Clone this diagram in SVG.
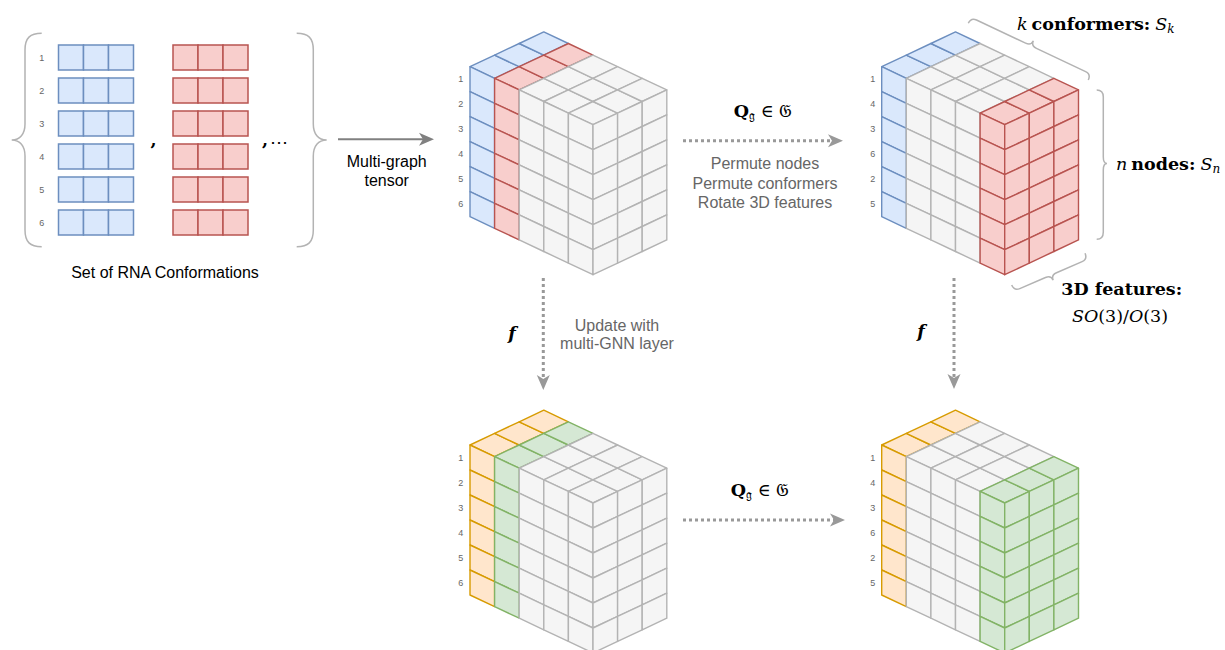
<svg xmlns="http://www.w3.org/2000/svg" width="1225" height="650" viewBox="0 0 1225 650">
<style>
.b{fill:#dae8fc;stroke:#6c8ebf}
.r{fill:#f8cecc;stroke:#b85450}
.g{fill:#f5f5f5;stroke:#b3b3b3}
.o{fill:#ffe6cc;stroke:#d79b00}
.gr{fill:#d5e8d4;stroke:#82b366}
.cube{stroke-width:1.4;stroke-linejoin:round}
.set{stroke-width:1.5}
.idx{font-family:"Liberation Sans",Arial,sans-serif;font-size:9px;fill:#666;text-anchor:middle}
.lbl{font-family:"Liberation Sans",Arial,sans-serif;font-size:16px;fill:#000;text-anchor:middle}
.gl{font-family:"Liberation Sans",Arial,sans-serif;font-size:16px;fill:#666;text-anchor:middle}
.mt{font-family:"DejaVu Serif","Liberation Serif",serif;font-size:17.5px;fill:#000}
.brace{fill:none;stroke:#b3b3b3;stroke-width:1.5}
.solid{fill:none;stroke:#808080;stroke-width:2}
.dot{fill:none;stroke:#999;stroke-width:3;stroke-dasharray:3 3}
</style>
<defs>
<marker id="ah" markerUnits="userSpaceOnUse" markerWidth="16" markerHeight="16" refX="4" refY="8" orient="auto" overflow="visible">
<path d="M0,1.5L15,8L0,14.5L4,8z" fill="#808080"/>
</marker>
<marker id="ahd" markerUnits="userSpaceOnUse" markerWidth="16" markerHeight="16" refX="4" refY="8" orient="auto" overflow="visible">
<path d="M0,1.5L15,8L0,14.5L4,8z" fill="#999"/>
</marker>
<path id="tc" d="M0,0l24.6,-11.6l24.6,11.6l-24.6,11.6z"/>
<path id="lc" d="M0,0l24.6,11.6v25l-24.6,-11.6z"/>
<path id="rc" d="M0,0l24.6,-11.6v25l-24.6,11.6z"/>
<g id="layer">
<use href="#tc"/><use href="#tc" x="24.6" y="-11.6"/><use href="#tc" x="49.2" y="-23.2"/>
<use href="#lc"/><use href="#lc" y="25"/><use href="#lc" y="50"/><use href="#lc" y="75"/><use href="#lc" y="100"/><use href="#lc" y="125"/>
</g>
<g id="rcol"><use href="#rc"/><use href="#rc" y="25"/><use href="#rc" y="50"/><use href="#rc" y="75"/><use href="#rc" y="100"/><use href="#rc" y="125"/></g>
<g id="rface"><use href="#rcol"/><use href="#rcol" x="24.6" y="-11.6"/><use href="#rcol" x="49.2" y="-23.2"/></g>
<g id="row"><rect width="25" height="25"/><rect x="25" width="25" height="25"/><rect x="50" width="25" height="25"/></g>
</defs>
<rect width="1225" height="650" fill="#fff"/>

<g id="rna-set">
<path class="brace" d="M41.7,33.3C30,33.3 25,38 25,50L25,124C25,134 20,140 11.7,140C20,140 25,146 25,156L25,230C25,242 30,246.7 41.7,246.7"/>
<path class="brace" d="M296.7,33.3C308.3,33.3 313.3,38 313.3,50L313.3,124C313.3,134 318.3,140 326.7,140C318.3,140 313.3,146 313.3,156L313.3,230C313.3,242 308.3,246.7 296.7,246.7"/>
<g class="b set">
<use href="#row" x="58.5" y="45"/><use href="#row" x="58.5" y="78"/><use href="#row" x="58.5" y="111"/><use href="#row" x="58.5" y="144"/><use href="#row" x="58.5" y="177"/><use href="#row" x="58.5" y="210"/>
</g>
<g class="r set">
<use href="#row" x="173" y="45"/><use href="#row" x="173" y="78"/><use href="#row" x="173" y="111"/><use href="#row" x="173" y="144"/><use href="#row" x="173" y="177"/><use href="#row" x="173" y="210"/>
</g>
<g class="idx">
<text x="41.7" y="60.5">1</text><text x="41.7" y="93.5">2</text><text x="41.7" y="126.5">3</text><text x="41.7" y="159.5">4</text><text x="41.7" y="192.5">5</text><text x="41.7" y="225.5">6</text>
</g>
<text class="mt" x="150.5" y="146" font-size="21" font-weight="bold">,</text>
<text class="mt" x="262" y="146" font-size="21" font-weight="bold">,</text>
<text class="mt" x="270" y="147.5" font-size="26">⋯</text>
<text class="lbl" x="165" y="277.5">Set of RNA Conformations</text>
</g>

<g id="cube-input" class="cube" transform="translate(470,66.7)">
<use href="#layer" class="b"/>
<use href="#layer" class="r" x="24.6" y="11.6"/>
<use href="#layer" class="g" x="49.2" y="23.2"/>
<use href="#layer" class="g" x="73.8" y="34.8"/>
<use href="#layer" class="g" x="98.4" y="46.4"/>
<use href="#rface" class="g" x="123" y="58"/>
</g>
<g id="cube-input-idx" class="idx">
<text x="460.7" y="82.4">1</text><text x="460.7" y="107.4">2</text><text x="460.7" y="132.4">3</text><text x="460.7" y="157.4">4</text><text x="460.7" y="182.4">5</text><text x="460.7" y="207.4">6</text>
</g>

<g id="cube-permuted" class="cube" transform="translate(881.7,66.7)">
<use href="#layer" class="b"/>
<use href="#layer" class="g" x="24.6" y="11.6"/>
<use href="#layer" class="g" x="49.2" y="23.2"/>
<use href="#layer" class="g" x="73.8" y="34.8"/>
<use href="#layer" class="r" x="98.4" y="46.4"/>
<use href="#rface" class="r" x="123" y="58"/>
</g>
<g id="cube-permuted-idx" class="idx">
<text x="872.7" y="82.4">1</text><text x="872.7" y="107.4">4</text><text x="872.7" y="132.4">3</text><text x="872.7" y="157.4">6</text><text x="872.7" y="182.4">2</text><text x="872.7" y="207.4">5</text>
</g>

<g id="cube-updated" class="cube" transform="translate(470,445)">
<use href="#layer" class="o"/>
<use href="#layer" class="gr" x="24.6" y="11.6"/>
<use href="#layer" class="g" x="49.2" y="23.2"/>
<use href="#layer" class="g" x="73.8" y="34.8"/>
<use href="#layer" class="g" x="98.4" y="46.4"/>
<use href="#rface" class="g" x="123" y="58"/>
</g>
<g id="cube-updated-idx" class="idx">
<text x="460.7" y="460.7">1</text><text x="460.7" y="485.7">2</text><text x="460.7" y="510.7">3</text><text x="460.7" y="535.7">4</text><text x="460.7" y="560.7">5</text><text x="460.7" y="585.7">6</text>
</g>

<g id="cube-updated-permuted" class="cube" transform="translate(881.7,445)">
<use href="#layer" class="o"/>
<use href="#layer" class="g" x="24.6" y="11.6"/>
<use href="#layer" class="g" x="49.2" y="23.2"/>
<use href="#layer" class="g" x="73.8" y="34.8"/>
<use href="#layer" class="gr" x="98.4" y="46.4"/>
<use href="#rface" class="gr" x="123" y="58"/>
</g>
<g id="cube-updated-permuted-idx" class="idx">
<text x="872.7" y="460.7">1</text><text x="872.7" y="485.7">4</text><text x="872.7" y="510.7">3</text><text x="872.7" y="535.7">6</text><text x="872.7" y="560.7">2</text><text x="872.7" y="585.7">5</text>
</g>

<g id="annotations">
<path class="brace" transform="translate(968.3,23.3) rotate(25.3)" d="M0,0C0,-4 2,-6.5 6,-6.5L60.3,-6.5C64.3,-6.5 66.3,-8.5 66.3,-12C66.3,-8.5 68.3,-6.5 72.3,-6.5L126.7,-6.5C130.7,-6.5 132.7,-4 132.7,0"/>
<path class="brace" d="M1096.7,90C1101.5,90 1103.3,92.5 1103.3,97L1103.3,157C1103.3,161 1104.5,163.5 1107,163.5C1104.5,163.5 1103.3,166 1103.3,170L1103.3,232C1103.3,236.5 1101.5,239.3 1096.7,239.3"/>
<path class="brace" transform="translate(1011.7,285) rotate(-23.4)" d="M0,0C0,4 2,6.5 6,6.5L34,6.5C38,6.5 40,8.5 40,12C40,8.5 42,6.5 46,6.5L73.9,6.5C77.9,6.5 79.9,4 79.9,0"/>
<text class="mt" x="1017" y="30"><tspan font-style="italic">k</tspan><tspan font-weight="bold" dx="4">conformers:</tspan><tspan font-style="italic" dx="5">S</tspan><tspan font-style="italic" font-size="12" dy="3">k</tspan></text>
<text class="mt" x="1116" y="170"><tspan font-style="italic">n</tspan><tspan font-weight="bold" dx="4">nodes:</tspan><tspan font-style="italic" dx="5">S</tspan><tspan font-style="italic" font-size="12" dy="3">n</tspan></text>
<text class="mt" x="1121.7" y="295" font-weight="bold" text-anchor="middle">3D features:</text>
<text class="mt" x="1120" y="322" text-anchor="middle"><tspan font-style="italic">SO</tspan>(3)/<tspan font-style="italic">O</tspan>(3)</text>
</g>

<g id="connectors">
<path class="solid" d="M338,139.3H423" marker-end="url(#ah)"/>
<path class="dot" d="M683,140.7H832" marker-end="url(#ahd)"/>
<path class="dot" d="M683,520H834" marker-end="url(#ahd)"/>
<path class="dot" d="M543.3,278V379" marker-end="url(#ahd)"/>
<path class="dot" d="M954,278V378" marker-end="url(#ahd)"/>
</g>

<g id="connector-labels">
<text class="lbl" x="386.7" y="167">Multi-graph</text>
<text class="lbl" x="386.7" y="186">tensor</text>
<text class="mt" x="763" y="117" font-size="19" text-anchor="middle"><tspan font-weight="bold">Q</tspan><tspan font-size="13" dy="3">𝔤</tspan><tspan dy="-3"> ∈ 𝔊</tspan></text>
<text class="gl" x="765" y="169">Permute nodes</text>
<text class="gl" x="765" y="188.5">Permute conformers</text>
<text class="gl" x="765" y="208">Rotate 3D features</text>
<text class="mt" x="512" y="339" font-style="italic" font-weight="bold" font-size="26" text-anchor="middle">f</text>
<text class="gl" x="617" y="330.5">Update with</text>
<text class="gl" x="617" y="349">multi-GNN layer</text>
<text class="mt" x="921" y="337" font-style="italic" font-weight="bold" font-size="26" text-anchor="middle">f</text>
<text class="mt" x="760" y="496" font-size="19" text-anchor="middle"><tspan font-weight="bold">Q</tspan><tspan font-size="13" dy="3">𝔤</tspan><tspan dy="-3"> ∈ 𝔊</tspan></text>
</g>
</svg>
